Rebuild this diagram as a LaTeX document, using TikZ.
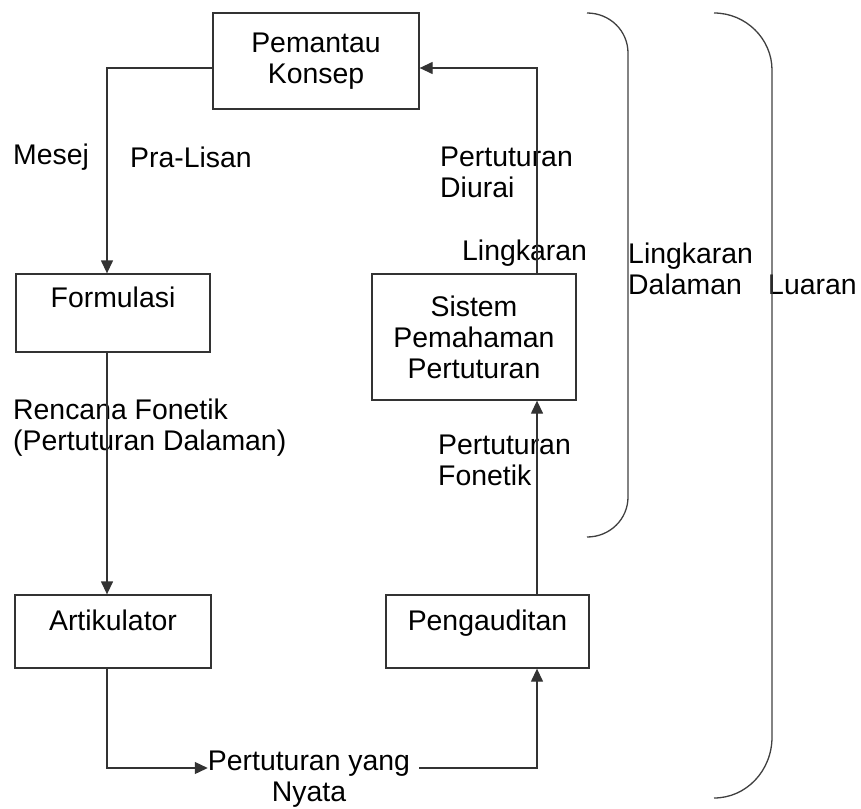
\documentclass[tikz,border=0pt]{standalone}
\usepackage{fontspec}
\setmainfont{Liberation Sans}
\usetikzlibrary{positioning,arrows.meta}

\begin{document}
\begin{tikzpicture}[
    x=1pt, y=-1pt,
    >={Triangle[length=13pt,width=12pt]},
    conn/.style={->, draw=black!80, line width=1.3pt},
    bracket/.style={draw=black!75, line width=1.3pt},
    box/.style={draw=black!80, line width=1.3pt, align=center},
    tag/.style={align=left, anchor=west},
    every node/.style={font=\fontsize{28.4}{31}\selectfont,
                       inner sep=0pt}]

    \useasboundingbox (0,0) rectangle (861,808);

    % boxes
    \node[box, minimum width=206pt, minimum height=96pt] (konsep) at (316,61) {Pemantau\\Konsep};
    \node[box, minimum width=194pt, minimum height=78pt, text depth=31pt] (formulasi) at (113,313) {Formulasi};
    \node[box, minimum width=204pt, minimum height=126pt] (sistem) at (474,337) {Sistem\\Pemahaman\\Pertuturan};
    \node[box, minimum width=196pt, minimum height=73pt, text depth=23pt] (artikulator) at (113,631.5) {Artikulator};
    \node[box, minimum width=203pt, minimum height=73pt, text depth=23pt] (pengauditan) at (487.5,631.5) {Pengauditan};
    \node[align=center] (nyata) at (309,779) {Pertuturan yang\\Nyata};

    % labels
    \node[tag] (mesej) at (13,157) {Mesej};
    \node[tag] (pralisan) at (130,157) {Pra-Lisan};
    \node[tag] (diurai) at (440,172) {Pertuturan\\Diurai};
    \node[tag] (lingkaran) at (462,253) {Lingkaran};
    \node[tag] (dalaman) at (628,269) {Lingkaran\\Dalaman};
    \node[tag] (luaran) at (768,285) {Luaran};
    \node[tag] (rencana) at (13,428) {Rencana Fonetik\\(Pertuturan Dalaman)};
    \node[tag] (fonetik) at (438,460) {Pertuturan\\Fonetik};

    \coordinate (ltop) at (107,68);
    \coordinate (rtop) at (537,68);
    \coordinate (bot) at (107,768);

    % connectors
    \draw[conn] (konsep.west |- ltop) -- (ltop) -- (ltop |- formulasi.north);
    \draw[conn] (ltop |- formulasi.south) -- (ltop |- artikulator.north);
    \draw[conn] (ltop |- artikulator.south) -- (bot) -- (nyata.west |- bot);
    \draw[conn, shorten <=9pt] (nyata.east |- bot) -| (rtop |- pengauditan.south);
    \draw[conn] (rtop |- pengauditan.north) -- (rtop |- sistem.south);
    \draw[conn] (rtop |- sistem.north) -- (rtop) -- (konsep.east |- rtop);

    % brackets
    \draw[bracket] (587,13) .. controls (610,13) and (628,31) .. (628,53)
        -- (628,497) .. controls (628,519) and (610,537) .. (587,537);
    \draw[bracket] (714,13) .. controls (746,13) and (772,39) .. (772,70)
        -- (772,737) .. controls (772,771) and (746,798) .. (714,798);

\end{tikzpicture}
\end{document}
